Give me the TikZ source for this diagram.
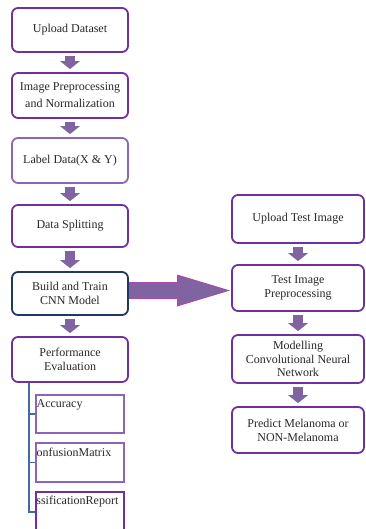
\documentclass[tikz,border=0pt]{standalone}
\usepackage{fontspec}
\setmainfont{Liberation Serif}
\usepackage{tikz}
\usetikzlibrary{arrows.meta,positioning,calc}
\definecolor{bxpurple}{RGB}{112,48,160}
\definecolor{bxlilac}{RGB}{140,100,185}
\definecolor{bxnavy}{RGB}{31,56,100}
\definecolor{arrpurple}{RGB}{128,100,162}
\definecolor{arredge}{RGB}{176,70,176}
\definecolor{treeblue}{RGB}{70,105,160}
\definecolor{txtgray}{RGB}{40,40,40}

\begin{document}
\begin{tikzpicture}[
    x=1pt, y=-1pt,
    stepbox/.style={rectangle, draw=bxpurple, line width=1.8pt, rounded corners=6pt,
                    fill=white, text=txtgray, align=center,
                    font=\fontsize{12}{14}\selectfont, inner sep=2pt},
    leftbox/.style={stepbox, minimum width=116pt},
    rightbox/.style={stepbox, minimum width=132pt},
    subbox/.style={rectangle, draw=bxlilac, line width=1.2pt, minimum width=88pt},
    subtxt/.style={anchor=north west, inner sep=1pt, yshift=-4pt, text=txtgray,
                   font=\fontsize{12}{14}\selectfont},
    downarr/.style={draw=arrpurple, line width=10pt, shorten <=3pt, shorten >=3pt,
                    -{Triangle[length=8pt, width=20pt, line width=0pt]}},
    treeline/.style={draw=treeblue, line width=1.4pt}
  ]
    \useasboundingbox (0,0) rectangle (365,529);

    % --- Training pipeline ---
    \node[leftbox, minimum height=44pt] (upload) at (70,30) {Upload Dataset};
    \node[leftbox, minimum height=45pt, font=\fontsize{12}{17}\selectfont] (prep) at (70,95.5) {Image Preprocessing\\and Normalization};
    \node[leftbox, minimum height=45pt, draw=bxlilac] (label) at (70,160.5) {Label Data(X \& Y)};
    \node[leftbox, minimum height=42pt] (split) at (70,226) {Data Splitting};
    \node[leftbox, minimum height=43pt, draw=bxnavy] (build) at (70,293.5) {Build and Train\\CNN Model};
    \node[leftbox, minimum height=45pt] (perf) at (70,359.5) {Performance\\Evaluation};

    \draw[downarr] (upload.south) -- (prep.north);
    \draw[downarr] (prep.south) -- (label.north);
    \draw[downarr] (label.south) -- (split.north);
    \draw[downarr] (split.south) -- (build.north);
    \draw[downarr] (build.south) -- (perf.north);

    % --- Metrics ---
    \node[subbox, minimum height=38pt, label={[subtxt]north west:Accuracy}] (acc) at (80,414) {};
    \node[subbox, minimum height=39pt, label={[subtxt]north west:onfusionMatrix}] (conf) at (80,462.5) {};
    \node[subbox, minimum height=40pt, draw=bxpurple, line width=1.6pt,
          label={[subtxt]north west:ssificationReport}] (rep) at (80,512) {};

    \coordinate (trunk) at ($(perf.south west)+(18,0)$);
    \draw[treeline] (trunk) |- (rep.west);
    \draw[treeline] (trunk |- acc.west) -- (acc.west);
    \draw[treeline] (trunk |- conf.west) -- (conf.west);

    % --- Testing pipeline ---
    \node[rightbox, minimum height=48pt] (utest) at (298,219) {Upload Test Image};
    \node[rightbox, minimum height=46pt] (tprep) at (298,288) {Test Image\\Preprocessing};
    \node[rightbox, minimum height=48pt, font=\fontsize{12}{13.5}\selectfont] (model) at (298,359) {Modelling\\Convolutional Neural\\Network};
    \node[rightbox, minimum height=46pt] (pred) at (298,430) {Predict Melanoma or\\NON-Melanoma};

    \draw[downarr] (utest.south) -- (tprep.north);
    \draw[downarr] (tprep.south) -- (model.north);
    \draw[downarr] (model.south) -- (pred.north);

    % big arrow into the test side (edge, then fill)
    \draw[draw=arredge, line width=16.5pt, shorten >=1pt,
          -{Triangle[length=53pt, width=32pt, line width=0pt]}]
      ($(build.east)+(0,-3)$) -- ($(build.east -| tprep.west)+(0,-3)$);
    \draw[draw=arrpurple, line width=14.5pt, shorten <=1pt, shorten >=2.6pt,
          -{Triangle[length=50pt, width=29pt, line width=0pt]}]
      ($(build.east)+(0,-3)$) -- ($(build.east -| tprep.west)+(0,-3)$);
  \end{tikzpicture}
\end{document}
